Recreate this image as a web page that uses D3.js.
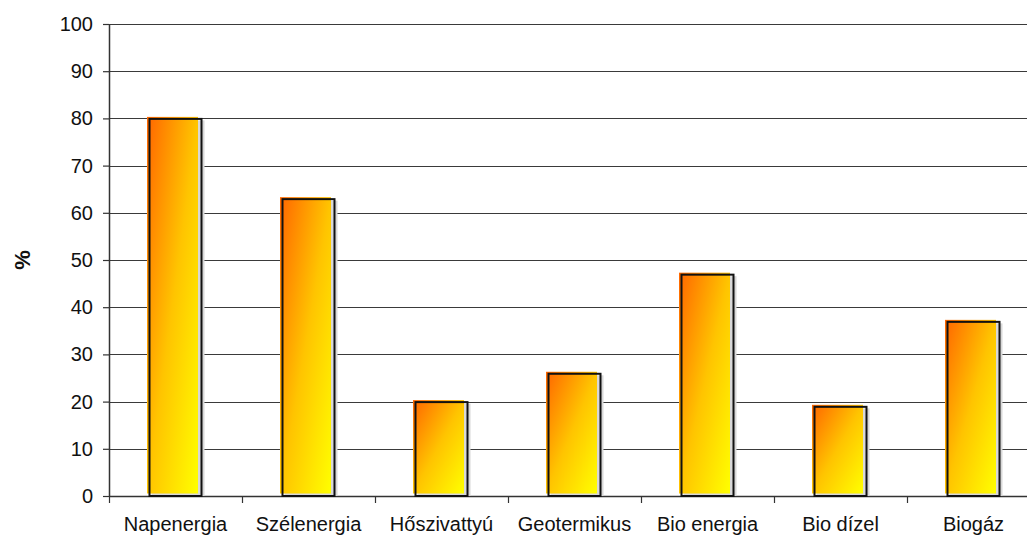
<!DOCTYPE html>
<html>
<head>
<meta charset="utf-8">
<script src="https://cdn.jsdelivr.net/npm/d3@7"></script>
<style>
  body { margin: 0; background: #fff; }
  svg { display: block; font-family: "Liberation Sans", Arial, sans-serif; }
</style>
</head>
<body>
<div id="chart"></div>
<script>
// data
var categories = ["Napenergia", "Szélenergia", "Hőszivattyú", "Geotermikus", "Bio energia", "Bio dízel", "Biogáz"];
var values = [80, 63, 20, 26, 47, 19, 37];
var yTicks = [0, 10, 20, 30, 40, 50, 60, 70, 80, 90, 100];

var table = categories.map(function(c, i) { return {name: c, value: values[i]}; });

var W = 1027, H = 536;
var plot = {left: 109, right: 1040, top: 24, bottom: 496};

var svg = d3.select("#chart")
  .append("svg")
    .attr("width", W)
    .attr("height", H);

// gradient orange -> yellow, top-left to bottom-right of each bar
var grad = svg.append("defs").append("linearGradient")
    .attr("id", "barGrad")
    .attr("x1", 0).attr("y1", 0)
    .attr("x2", 1).attr("y2", 1);
grad.append("stop").attr("offset", "0%").attr("stop-color", "#ff6600");
grad.append("stop").attr("offset", "50%").attr("stop-color", "#ffc400");
grad.append("stop").attr("offset", "100%").attr("stop-color", "#ffff00");

var x = d3.scaleBand()
  .domain(categories)
  .range([plot.left, plot.right]);

var y = d3.scaleLinear()
  .domain([0, 100])
  .range([plot.bottom, plot.top]);

// gridlines
svg.append("g")
  .selectAll("line")
  .data(yTicks.slice(1))
  .enter()
  .append("line")
    .attr("x1", plot.left)
    .attr("x2", W)
    .attr("y1", function(d) { return Math.round(y(d)) + 0.5; })
    .attr("y2", function(d) { return Math.round(y(d)) + 0.5; })
    .attr("stroke", "#3a3a3a")
    .attr("stroke-width", 1.2);

// Y axis
var yAxisG = svg.append("g")
  .attr("transform", "translate(" + plot.left + ",0)")
  .call(d3.axisLeft(y).tickValues(yTicks).tickSize(6).tickPadding(10).tickSizeOuter(0));
yAxisG.select(".domain").attr("stroke", "#333").attr("stroke-width", 1.5);
yAxisG.selectAll(".tick line").attr("stroke", "#333").attr("stroke-width", 1.2);
yAxisG.selectAll(".tick text")
  .attr("fill", "#111")
  .style("font-size", "20px");

// X axis
var xAxisG = svg.append("g")
  .attr("transform", "translate(0," + plot.bottom + ")")
  .call(d3.axisBottom(x).tickSize(0).tickPadding(21));
xAxisG.select(".domain").attr("stroke", "#333").attr("stroke-width", 1.5);
xAxisG.selectAll(".tick text")
  .attr("fill", "#111")
  .style("font-size", "20px");

// x ticks between categories
svg.append("g")
  .selectAll("line")
  .data(categories)
  .enter()
  .append("line")
    .attr("x1", function(d) { return Math.round(x(d)) + 0.5; })
    .attr("x2", function(d) { return Math.round(x(d)) + 0.5; })
    .attr("y1", plot.bottom)
    .attr("y2", plot.bottom + 7)
    .attr("stroke", "#333")
    .attr("stroke-width", 1.2);

// Y axis label
svg.append("text")
    .attr("text-anchor", "middle")
    .attr("transform", "translate(30," + 260 + ") rotate(-90)")
    .style("font-size", "22px")
    .style("font-weight", "bold")
    .attr("fill", "#111")
    .text("%");

// Bars
var bars = svg.append("g").selectAll("g")
  .data(table)
  .enter()
  .append("g");

var cx = function(d) { return x(d.name) + x.bandwidth() / 2; };

// faint shadow
bars.append("rect")
    .attr("x", function(d) { return cx(d) - 24; })
    .attr("y", function(d) { return y(d.value) + 2; })
    .attr("width", 53)
    .attr("height", function(d) { return plot.bottom - y(d.value) - 2; })
    .attr("fill", "#d8d8d8");

// gradient fill
bars.append("rect")
    .attr("x", function(d) { return cx(d) - 28.5; })
    .attr("y", function(d) { return y(d.value) - 1.5; })
    .attr("width", 51)
    .attr("height", function(d) { return plot.bottom - y(d.value) - 1; })
    .attr("fill", "url(#barGrad)");

// outline
bars.append("rect")
    .attr("x", function(d) { return cx(d) - 26; })
    .attr("y", function(d) { return y(d.value) + 0.5; })
    .attr("width", 52)
    .attr("height", function(d) { return plot.bottom - y(d.value) - 0.5; })
    .attr("fill", "none")
    .attr("stroke", "#111")
    .attr("stroke-width", 2);
</script>
</body>
</html>
